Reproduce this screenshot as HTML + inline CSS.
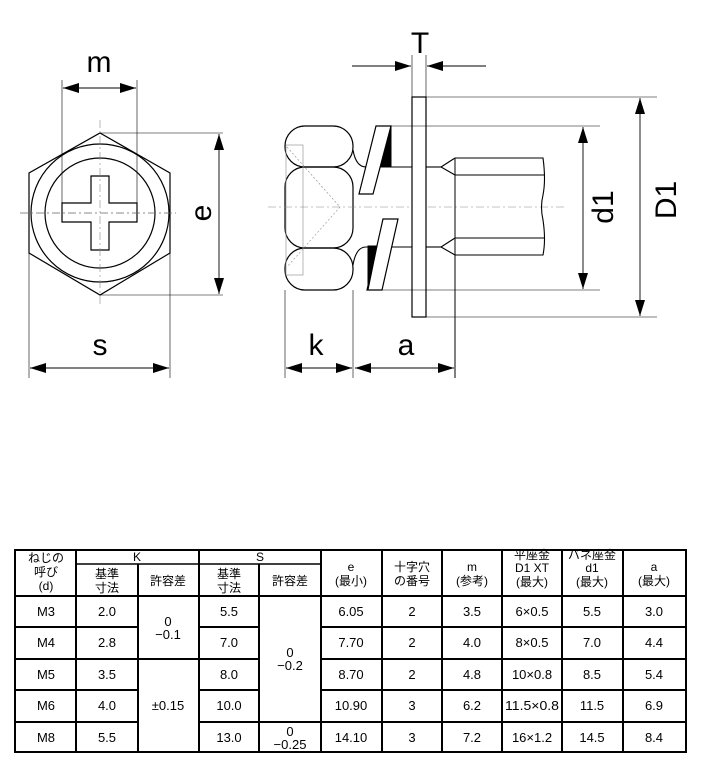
<!DOCTYPE html>
<html><head><meta charset="utf-8"><style>
html,body{margin:0;padding:0;background:#fff;}
svg{display:block;}
text{font-family:"Liberation Sans","Noto Sans CJK JP",sans-serif;fill:#000;}
</style></head><body>
<svg width="714" height="768" viewBox="0 0 714 768" xmlns="http://www.w3.org/2000/svg">
<defs>
<marker id="ar" viewBox="0 0 16 10" refX="16" refY="5" markerWidth="16" markerHeight="10" markerUnits="userSpaceOnUse" orient="auto-start-reverse"><path d="M0,0 L16,5 L0,10 Z" fill="#000"/></marker>
</defs>
<g stroke="#000" fill="none" stroke-width="1">
<polygon points="100,133 170,173 170,253 100,295 29,253 29,173" stroke-width="1.2"/>
<circle cx="100" cy="213" r="69" stroke-width="1.2"/>
<circle cx="100" cy="213" r="55" stroke-width="1.2"/>
<path d="M91,176 H109 V203 H137 V222 H109 V250 H91 V222 H62 V203 H91 Z" stroke-width="1.2"/>
<line x1="20" y1="213" x2="176" y2="213" stroke="#666" stroke-width="0.8" stroke-dasharray="8,3,2,3"/>
<line x1="100" y1="120" x2="100" y2="305" stroke="#888" stroke-width="0.6" stroke-dasharray="8,3,2,3"/>
<line x1="62" y1="80" x2="62" y2="203" stroke-width="0.6"/>
<line x1="137" y1="80" x2="137" y2="203" stroke-width="0.6"/>
<line x1="63" y1="88" x2="100" y2="88" stroke-width="0.9" marker-start="url(#ar)"/>
<line x1="100" y1="88" x2="136" y2="88" stroke-width="0.9" marker-end="url(#ar)"/>
<line x1="100" y1="133" x2="223" y2="133" stroke-width="0.6"/>
<line x1="100" y1="295" x2="223" y2="295" stroke-width="0.6"/>
<line x1="219" y1="134" x2="219" y2="213" stroke-width="0.9" marker-start="url(#ar)"/>
<line x1="219" y1="213" x2="219" y2="294" stroke-width="0.9" marker-end="url(#ar)"/>
<line x1="29" y1="253" x2="29" y2="378" stroke-width="0.6"/>
<line x1="170" y1="253" x2="170" y2="378" stroke-width="0.6"/>
<line x1="30" y1="368" x2="100" y2="368" stroke-width="0.9" marker-start="url(#ar)"/>
<line x1="100" y1="368" x2="169" y2="368" stroke-width="0.9" marker-end="url(#ar)"/>

<rect x="285" y="126" width="68" height="41" rx="20" stroke-width="1.2"/>
<rect x="285" y="167" width="68" height="81" rx="20" stroke-width="1.2"/>
<rect x="285" y="248" width="68" height="42" rx="20" stroke-width="1.2"/>
<rect x="286" y="145" width="17" height="130" stroke="#999" stroke-width="0.7"/>
<path d="M287,147 L340,207 L287,267" stroke="#999" stroke-width="0.7" stroke-dasharray="2,2"/>
<line x1="268" y1="207" x2="565" y2="207" stroke="#888" stroke-width="0.6" stroke-dasharray="8,3,2,3"/>
<path d="M353,150 Q356,167 366,167 H412" stroke-width="1.1"/>
<path d="M353,265 Q356,247 366,247 H412" stroke-width="1.1"/>
<polygon points="376,126 391,126 373,194 359,194" fill="#fff" stroke-width="1.2"/>
<polygon points="391,126 391,167 381,167" fill="#000"/>
<polygon points="383,219 398,219 382,290 367,290" fill="#fff" stroke-width="1.2"/>
<polygon points="368,246 368,290 377,246" fill="#000"/>
<rect x="412" y="97" width="14" height="220" fill="#fff" stroke-width="1.2"/>
<line x1="426" y1="167" x2="441" y2="167" stroke-width="1.1"/>
<line x1="426" y1="247" x2="441" y2="247" stroke-width="1.1"/>
<path d="M455,158 L441,167 L455,175" stroke-width="1.1"/>
<path d="M455,238 L441,247 L455,255" stroke-width="1.1"/>
<line x1="455" y1="158" x2="455" y2="378" stroke-width="1"/>
<path d="M455,158 H543 Q546,180 543,195 Q540,207 543,220 Q546,240 543,255 H455" stroke-width="1.1"/>
<line x1="455" y1="175" x2="545" y2="175" stroke-width="1"/>
<line x1="455" y1="238" x2="545" y2="238" stroke-width="1"/>
<line x1="412" y1="55" x2="412" y2="97" stroke-width="0.6"/>
<line x1="426" y1="55" x2="426" y2="97" stroke-width="0.6"/>
<line x1="352" y1="66" x2="411" y2="66" stroke-width="0.9" marker-end="url(#ar)"/>
<line x1="486" y1="66" x2="427" y2="66" stroke-width="0.9" marker-end="url(#ar)"/>
<line x1="391" y1="126" x2="600" y2="126" stroke-width="0.6"/>
<line x1="382" y1="290" x2="600" y2="290" stroke-width="0.6"/>
<line x1="583" y1="127" x2="583" y2="207" stroke-width="0.9" marker-start="url(#ar)"/>
<line x1="583" y1="207" x2="583" y2="289" stroke-width="0.9" marker-end="url(#ar)"/>
<line x1="426" y1="97" x2="657" y2="97" stroke-width="0.6"/>
<line x1="426" y1="317" x2="657" y2="317" stroke-width="0.6"/>
<line x1="640" y1="98" x2="640" y2="207" stroke-width="0.9" marker-start="url(#ar)"/>
<line x1="640" y1="207" x2="640" y2="316" stroke-width="0.9" marker-end="url(#ar)"/>
<line x1="285" y1="290" x2="285" y2="378" stroke-width="0.6"/>
<line x1="353" y1="290" x2="353" y2="378" stroke-width="0.6"/>
<line x1="286" y1="368" x2="319" y2="368" stroke-width="0.9" marker-start="url(#ar)"/>
<line x1="319" y1="368" x2="352" y2="368" stroke-width="0.9" marker-end="url(#ar)"/>
<line x1="355" y1="368" x2="405" y2="368" stroke-width="0.9" marker-start="url(#ar)"/>
<line x1="405" y1="368" x2="454" y2="368" stroke-width="0.9" marker-end="url(#ar)"/>
</g>
<g font-size="30" text-anchor="middle">
<text x="99" y="72">m</text>
<text x="100" y="355">s</text>
<text x="316" y="355">k</text>
<text x="406" y="355">a</text>
<text x="420" y="53">T</text>
<text transform="translate(211,213) rotate(-90)">e</text>
<text transform="translate(613,207) rotate(-90)">d1</text>
<text transform="translate(676,200) rotate(-90)">D1</text>
</g>

<g stroke="#000" stroke-width="2" fill="none">
<rect x="15" y="550" width="671" height="202"/>
<line x1="76" y1="564" x2="321" y2="564" stroke-width="1.5"/>
<line x1="15" y1="596" x2="686" y2="596"/>
<line x1="15" y1="627" x2="138" y2="627"/><line x1="199" y1="627" x2="259" y2="627"/><line x1="321" y1="627" x2="686" y2="627"/>
<line x1="15" y1="659" x2="259" y2="659"/><line x1="321" y1="659" x2="686" y2="659"/>
<line x1="15" y1="690" x2="138" y2="690"/><line x1="199" y1="690" x2="259" y2="690"/><line x1="321" y1="690" x2="686" y2="690"/>
<line x1="15" y1="722" x2="138" y2="722"/><line x1="199" y1="722" x2="686" y2="722"/>
<line x1="76" y1="550" x2="76" y2="752"/>
<line x1="138" y1="564" x2="138" y2="752"/>
<line x1="199" y1="550" x2="199" y2="752"/>
<line x1="259" y1="564" x2="259" y2="752"/>
<line x1="321" y1="550" x2="321" y2="752"/>
<line x1="382" y1="550" x2="382" y2="752"/>
<line x1="442" y1="550" x2="442" y2="752"/>
<line x1="502" y1="550" x2="502" y2="752"/>
<line x1="562" y1="550" x2="562" y2="752"/>
<line x1="623" y1="550" x2="623" y2="752"/>
</g>
<g font-size="12" text-anchor="middle">
<text x="46" y="562">ねじの</text><text x="46" y="576">呼び</text><text x="46" y="590">(d)</text>
<text x="137" y="561">K</text><text x="260" y="561">S</text>
<text x="107" y="578">基準</text><text x="107" y="592">寸法</text>
<text x="168" y="585">許容差</text>
<text x="229" y="578">基準</text><text x="229" y="592">寸法</text>
<text x="290" y="585">許容差</text>
<text x="351" y="571">e</text><text x="351" y="585">(最小)</text>
<text x="412" y="571">十字穴</text><text x="412" y="585">の番号</text>
<text x="472" y="571">m</text><text x="472" y="585">(参考)</text>
<text x="532" y="559">平座金</text><text x="532" y="572">D1 XT</text><text x="532" y="586">(最大)</text>
<text x="592" y="559">バネ座金</text><text x="592" y="572">d1</text><text x="592" y="586">(最大)</text>
<text x="654" y="571">a</text><text x="654" y="585">(最大)</text>
</g>
<g font-size="13" text-anchor="middle">
<g><text x="46" y="616">M3</text><text x="46" y="647">M4</text><text x="46" y="679">M5</text><text x="46" y="710">M6</text><text x="46" y="742">M8</text></g>
<g><text x="107" y="616">2.0</text><text x="107" y="647">2.8</text><text x="107" y="679">3.5</text><text x="107" y="710">4.0</text><text x="107" y="742">5.5</text></g>
<text x="168" y="626">0</text><text x="168" y="639">−0.1</text>
<text x="168" y="710">±0.15</text>
<g><text x="229" y="616">5.5</text><text x="229" y="647">7.0</text><text x="229" y="679">8.0</text><text x="229" y="710">10.0</text><text x="229" y="742">13.0</text></g>
<text x="290" y="657">0</text><text x="290" y="670">−0.2</text>
<text x="290" y="736">0</text><text x="290" y="749">−0.25</text>
<g><text x="351" y="616">6.05</text><text x="351" y="647">7.70</text><text x="351" y="679">8.70</text><text x="351" y="710">10.90</text><text x="351" y="742">14.10</text></g>
<g><text x="412" y="616">2</text><text x="412" y="647">2</text><text x="412" y="679">2</text><text x="412" y="710">3</text><text x="412" y="742">3</text></g>
<g><text x="472" y="616">3.5</text><text x="472" y="647">4.0</text><text x="472" y="679">4.8</text><text x="472" y="710">6.2</text><text x="472" y="742">7.2</text></g>
<g><text x="532" y="616">6×0.5</text><text x="532" y="647">8×0.5</text><text x="532" y="679">10×0.8</text><text x="532" y="710" textLength="54" lengthAdjust="spacingAndGlyphs">11.5×0.8</text><text x="532" y="742">16×1.2</text></g>
<g><text x="592" y="616">5.5</text><text x="592" y="647">7.0</text><text x="592" y="679">8.5</text><text x="592" y="710">11.5</text><text x="592" y="742">14.5</text></g>
<g><text x="654" y="616">3.0</text><text x="654" y="647">4.4</text><text x="654" y="679">5.4</text><text x="654" y="710">6.9</text><text x="654" y="742">8.4</text></g>
</g>
</svg>
</body></html>
